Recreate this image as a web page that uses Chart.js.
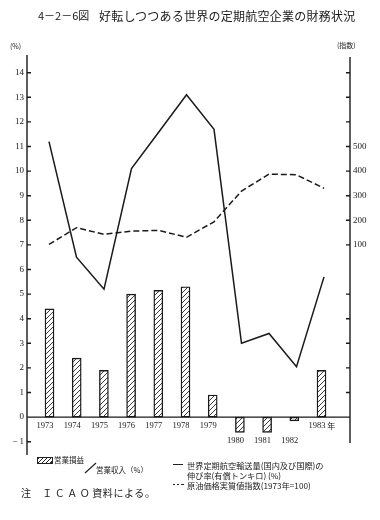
<!DOCTYPE html>
<html><head><meta charset="utf-8">
<script src="https://cdn.jsdelivr.net/npm/chart.js@4"></script>
<style>
html,body{margin:0;padding:0;background:#fff;}
#wrap{position:relative;width:380px;height:520px;overflow:hidden;font-family:"Noto Sans CJK JP",sans-serif;color:#1a1a1a;}
#wrap canvas{position:absolute;left:0;top:0;}
.t{position:absolute;white-space:nowrap;line-height:1;}
</style></head><body>
<div id="wrap">
<canvas id="c" width="380" height="520"></canvas>
<div class="t" style="left:38px;top:10px;font-size:11px;">4－2－6図</div>
<div class="t" style="left:99px;top:10px;font-size:12px;letter-spacing:0.25px;">好転しつつある世界の定期航空企業の財務状況</div>
<div class="t" style="left:10px;top:43px;font-size:7px;">(%)</div>
<div class="t" style="left:337px;top:42px;font-size:7px;">(指数)</div>

<div style="position:absolute;left:37px;top:457px;width:14px;height:5px;border:1px solid #222;background:repeating-linear-gradient(135deg,#222 0 0.8px,#fff 0.8px 3px);"></div>
<div class="t" style="left:54px;top:456px;font-size:7.5px;">営業損益</div>
<svg style="position:absolute;left:84px;top:461px;" width="14" height="13"><line x1="1" y1="12" x2="12" y2="2" stroke="#222" stroke-width="1.2"/></svg>
<div class="t" style="left:96px;top:466px;font-size:7.5px;">営業収入（%）</div>

<div style="position:absolute;left:173px;top:464px;width:10px;height:0;border-top:1.5px solid #222;"></div>
<div class="t" style="left:187px;top:461px;font-size:8.2px;">世界定期航空輸送量(国内及び国際)の</div>
<div class="t" style="left:187px;top:471px;font-size:8.2px;">伸び率(有償トンキロ) (%)</div>
<div style="position:absolute;left:173px;top:484px;width:11px;height:1.3px;background:repeating-linear-gradient(90deg,#222 0 2.2px,transparent 2.2px 4.2px);"></div>
<div class="t" style="left:187px;top:481px;font-size:8.2px;">原油価格実質値指数(1973年=100)</div>

<div class="t" style="left:21px;top:488px;font-size:10px;letter-spacing:0.6px;">注　<span style="letter-spacing:2.5px;">ＩＣＡＯ</span>資料による。</div>
</div>
<script>
// ---- data ----
const years = ['1973','1974','1975','1976','1977','1978','1979','1980','1981','1982','1983'];
const lastYearSuffix = ' 年';
const profitRatio = [4.4, 2.4, 1.9, 5.0, 5.15, 5.3, 0.9, -0.62, -0.62, -0.15, 1.9];
const trafficGrowth = [11.2, 6.5, 5.2, 10.1, 11.6, 13.1, 11.7, 3.0, 3.4, 2.05, 5.7];
const oilIndex = [102, 170, 143, 156, 159, 131, 194, 319, 388, 385, 330];
const leftTicks = [-1,0,1,2,3,4,5,6,7,8,9,10,11,12,13,14];
const rightTicks = [-500,-400,-300,-200,-100,100,200,300,400,500,600,700,800];
const rightLabels = [100,200,300,400,500];

function hatchPattern(){
  const c = document.createElement('canvas'); c.width = 5; c.height = 5;
  const g = c.getContext('2d');
  g.fillStyle = '#fff'; g.fillRect(0,0,5,5);
  g.strokeStyle = '#222'; g.lineWidth = 0.9;
  g.beginPath();
  g.moveTo(0,5); g.lineTo(5,0);
  g.moveTo(-1,1); g.lineTo(1,-1);
  g.moveTo(4,6); g.lineTo(6,4);
  g.stroke();
  return g.createPattern(c,'repeat');
}

const ink = '#1a1a1a';
const numFont = {family:'"Liberation Serif", serif', size: 9};

const drawAxes = {
  id:'drawAxes',
  afterDatasetsDraw(chart){
    const {ctx, chartArea:a, scales} = chart;
    const y = scales.y, yR = scales.yR, x = scales.x;
    const y0 = y.getPixelForValue(0);
    ctx.save();
    ctx.strokeStyle = ink; ctx.lineWidth = 1.4;
    ctx.beginPath();
    ctx.moveTo(a.left, a.top); ctx.lineTo(a.left, a.bottom);
    leftTicks.forEach(v=>{ const p = y.getPixelForValue(v); ctx.moveTo(a.left, p); ctx.lineTo(a.left+4, p); });
    ctx.moveTo(a.right, a.top+2); ctx.lineTo(a.right, a.bottom-12);
    rightTicks.forEach(v=>{ const p = yR.getPixelForValue(v); ctx.moveTo(a.right-4, p); ctx.lineTo(a.right, p); });
    ctx.moveTo(a.left, y0); ctx.lineTo(a.right, y0);
    ctx.stroke();
    ctx.fillStyle = ink;
    ctx.textBaseline = 'middle';
    years.forEach((yr,i)=>{
      ctx.font = '8.5px "Liberation Serif", serif';
      const px = x.getPixelForValue(i);
      const py = profitRatio[i] < 0 ? y0 + 24 : y0 + 8.5;
      const w = ctx.measureText(yr).width;
      ctx.textAlign = 'left';
      ctx.fillText(yr, px - w/2, py);
      if(i === years.length-1){
        ctx.font = '8px "Noto Sans CJK JP", sans-serif';
        ctx.fillText(lastYearSuffix, px + w/2, py);
      }
    });
    ctx.restore();
  }
};

new Chart(document.getElementById('c'), {
  data:{
    datasets:[
      {type:'line', label:'世界定期航空輸送量の伸び率', data: trafficGrowth.map((v,i)=>({x:i,y:v})),
       xAxisID:'x2', yAxisID:'y', borderColor:ink, borderWidth:1.5, pointRadius:0, tension:0, fill:false},
      {type:'line', label:'原油価格実質値指数', data: oilIndex.map((v,i)=>({x:i,y:v})),
       xAxisID:'x2', yAxisID:'yR', borderColor:ink, borderWidth:1.5, borderDash:[6,3], pointRadius:0, tension:0, fill:false},
      {type:'bar', label:'営業損益/営業収入', data: profitRatio.map((v,i)=>({x:i,y:v})),
       xAxisID:'x', yAxisID:'y', backgroundColor: hatchPattern(), borderColor:ink, borderWidth:1.4,
       borderSkipped:false, barThickness:9}
    ]
  },
  options:{
    responsive:false, animation:false,
    layout:{padding:{left:0,right:0,top:55,bottom:65}},
    plugins:{legend:{display:false}, tooltip:{enabled:false}, title:{display:false}},
    scales:{
      x:{type:'linear', display:false, offset:false, min:-0.662, max:11.213},
      x2:{type:'linear', display:false, offset:false, min:-0.8, max:10.945},
      y:{type:'linear', position:'left', min:-1.54, max:14.72,
         afterBuildTicks:s=>{ s.ticks = leftTicks.map(v=>({value:v})); },
         afterFit:s=>{ s.width = 27; },
         grid:{display:false, drawTicks:false}, border:{display:false},
         ticks:{padding:3, color:ink, font:numFont, callback:v=> v<0 ? '− '+Math.abs(v) : String(v)}},
      yR:{type:'linear', position:'right', min:-754, max:872,
         afterBuildTicks:s=>{ s.ticks = rightTicks.map(v=>({value:v})); },
         afterFit:s=>{ s.width = 30; },
         grid:{display:false, drawTicks:false}, border:{display:false},
         ticks:{padding:3, color:ink, font:numFont, callback:v=> rightLabels.includes(v) ? String(v) : ''}}
    }
  },
  plugins:[drawAxes]
});
</script>
</body></html>
